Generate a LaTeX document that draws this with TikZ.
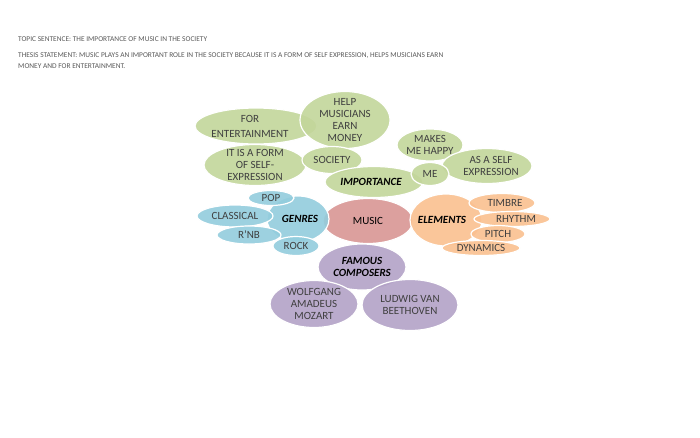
\documentclass[tikz,border=0pt]{standalone}
\usepackage{fontspec}
\setmainfont{Carlito}
\usetikzlibrary{shapes.geometric}
\definecolor{grn}{HTML}{C3D69B}
\definecolor{blu}{HTML}{93CDDD}
\definecolor{rd}{HTML}{D99694}
\definecolor{orn}{HTML}{FAC090}
\definecolor{prp}{HTML}{B3A2C7}
\definecolor{ink}{HTML}{3F3F3F}
\definecolor{hdr}{HTML}{595959}

\begin{document}
\begin{tikzpicture}[x=1pt,y=-1pt,
  every node/.style={font=\fontsize{11}{12}\selectfont,text=ink},
  bub/.style={ellipse,draw=white,line width=1.2pt,fill=#1,fill opacity=0.9,inner sep=0pt},
  lbl/.style={align=center,inner sep=0pt},
  hub/.style={lbl,font=\fontsize{11}{12}\selectfont\bfseries\itshape,text=black}]
\useasboundingbox[fill=white] (0,0) rectangle (700,437);

% heading
\node[anchor=west,inner sep=0pt,font=\fontsize{7.4}{10}\selectfont,text=hdr] (topic) at (18,39) {TOPIC SENTENCE: THE IMPORTANCE OF MUSIC IN THE SOCIETY};
\node[anchor=north west,align=left,inner sep=0pt,font=\fontsize{7.4}{11}\selectfont,text=hdr] (thesis) at (18,52)
  {THESIS STATEMENT: MUSIC PLAYS AN IMPORTANT ROLE IN THE SOCIETY BECAUSE IT IS A FORM OF SELF EXPRESSION, HELPS MUSICIANS EARN\\MONEY AND FOR ENTERTAINMENT.};

% centre
\node[bub=rd,minimum width=90,minimum height=45] (music) at (368,221) {};

% importance
\node[bub=grn,minimum width=122,minimum height=36] (entert) at (256,126) {};
\node[bub=grn,minimum width=90,minimum height=57] (earn) at (345,120) {};
\node[bub=grn,minimum width=102,minimum height=41] (form) at (255,165) {};
\node[bub=grn,minimum width=60,minimum height=27] (society) at (332,160) {};
\node[bub=grn,minimum width=98,minimum height=31] (import) at (374,182) {};
\node[bub=grn,minimum width=66,minimum height=32] (happy) at (430,145) {};
\node[bub=grn,minimum width=90,minimum height=35] (asself) at (487,166) {};
\node[bub=grn,minimum width=38,minimum height=23] (me) at (430,174) {};

% genres
\node[bub=blu,minimum width=62,minimum height=46] (genres) at (298,219) {};
\node[bub=blu,minimum width=46,minimum height=15] (pop) at (271,198) {};
\node[bub=blu,minimum width=76,minimum height=22] (classic) at (235,216) {};
\node[bub=blu,minimum width=64,minimum height=18] (rnb) at (249,235) {};
\node[bub=blu,minimum width=46,minimum height=19] (rock) at (296,246) {};

% elements
\node[bub=orn,minimum width=72,minimum height=52] (elem) at (446,220) {};
\node[bub=orn,minimum width=66,minimum height=19] (timbre) at (502,203) {};
\node[bub=orn,minimum width=76,minimum height=15] (rhythm) at (512,219) {};
\node[bub=orn,minimum width=54,minimum height=17] (pitch) at (498,234) {};
\node[bub=orn,minimum width=78,minimum height=15] (dyn) at (481,248) {};

% composers
\node[bub=prp,minimum width=88,minimum height=46] (famous) at (362,267) {};
\node[bub=prp,minimum width=88,minimum height=47] (mozart) at (314,304) {};
\node[bub=prp,minimum width=96,minimum height=51] (beet) at (410,305) {};

% texts
\node[lbl,text=black] at (music) {MUSIC};
\node[lbl] at ([xshift=-6]entert.center) {FOR\\[3pt]ENTERTAINMENT};
\node[lbl] at (earn) {HELP\\MUSICIANS\\EARN\\MONEY};
\node[lbl] at (form) {IT IS A FORM\\OF SELF-\\EXPRESSION};
\node[lbl] at (society) {SOCIETY};
\node[hub] at ([xshift=-3]import.center) {IMPORTANCE};
\node[lbl] at (happy) {MAKES\\ME HAPPY};
\node[lbl] at ([xshift=4]asself.center) {AS A SELF\\EXPRESSION};
\node[lbl] at (me) {ME};
\node[hub] at ([xshift=2]genres.center) {GENRES};
\node[lbl] at (pop) {POP};
\node[lbl] at (classic) {CLASSICAL};
\node[lbl] at (rnb) {R'NB};
\node[lbl] at (rock) {ROCK};
\node[hub] at ([xshift=-4]elem.center) {ELEMENTS};
\node[lbl] at ([xshift=3]timbre.center) {TIMBRE};
\node[lbl] at ([xshift=4]rhythm.center) {RHYTHM};
\node[lbl] at (pitch) {PITCH};
\node[lbl] at (dyn) {DYNAMICS};
\node[hub] at (famous) {FAMOUS\\COMPOSERS};
\node[lbl] at (mozart) {WOLFGANG\\AMADEUS\\MOZART};
\node[lbl] at (beet) {LUDWIG VAN\\BEETHOVEN};
\end{tikzpicture}
\end{document}
